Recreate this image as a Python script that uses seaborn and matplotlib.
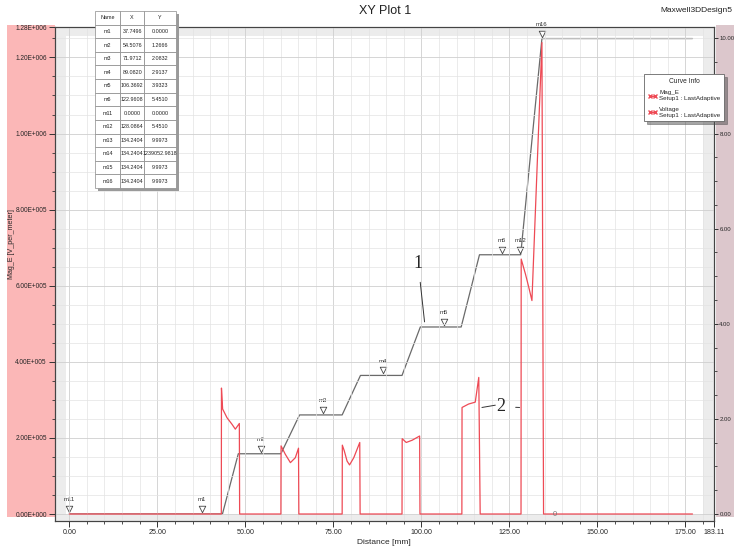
import numpy as np
import pandas as pd
import matplotlib
matplotlib.use('Agg')
import matplotlib.pyplot as plt
import seaborn as sns
from matplotlib.patches import Rectangle
from matplotlib.lines import Line2D
from matplotlib.ticker import FixedLocator, MultipleLocator, FuncFormatter
from matplotlib.transforms import offset_copy

# voltage along the line (right axis, V)
volt_x = [0, 43.5, 48.0, 60.1, 65.4, 77.5, 82.7, 94.5, 99.7, 111.3, 116.5, 128.2, 134.24, 177.0]
volt_y = [0, 0, 1.2666, 1.2666, 2.0832, 2.0832, 2.9137, 2.9137, 3.9323, 3.9323, 5.4510, 5.4510, 9.9973, 9.9973]

# field magnitude along the line (left axis, V/m)
mag_x = [0, 43.18, 43.22, 43.55, 44.8, 46.2, 47.16, 48.3, 48.38,
         60.1, 60.15, 61.35, 62.8, 64.2, 65.1, 65.2,
         77.5, 77.55, 78.1, 78.9, 79.6, 80.8, 82.5, 82.6,
         94.5, 94.55, 95.7, 97.4, 99.5, 99.6,
         111.5, 111.55, 113.4, 115.3, 116.3, 116.7,
         128.3, 128.35, 129.55, 130.5, 131.4, 134.24, 134.7, 177.0]
mag_y = [0, 0, 3.31e5, 2.76e5, 2.53e5, 2.36e5, 2.23e5, 2.38e5, 0,
         0, 1.79e5, 1.57e5, 1.35e5, 1.48e5, 1.73e5, 0,
         0, 1.81e5, 1.66e5, 1.39e5, 1.29e5, 1.48e5, 1.88e5, 0,
         0, 1.98e5, 1.88e5, 1.94e5, 2.05e5, 0,
         0, 2.80e5, 2.89e5, 2.94e5, 3.59e5, 0,
         0, 6.70e5, 6.31e5, 5.96e5, 5.61e5, 1.239e6, 0, 0]

# marker table
mk_names = ['m1', 'm2', 'm3', 'm4', 'm5', 'm6', 'm11', 'm12', 'm13', 'm14', 'm15', 'm16']
mk_x = ['37.7496', '54.5076', '71.9712', '89.0820', '106.3692', '122.9608', '0.0000',
        '128.0864', '134.2404', '134.2404', '134.2404', '134.2404']
mk_y = ['0.0000', '1.2666', '2.0832', '2.9137', '3.9323', '5.4510', '0.0000',
        '5.4510', '9.9973', '1239052.9818', '9.9973', '9.9973']
# markers drawn on the voltage curve
tri_names = ['m11', 'm1', 'm2', 'm3', 'm4', 'm5', 'm6', 'm12', 'm16']
tri_x = [0.0, 37.7496, 54.5076, 71.9712, 89.0820, 106.3692, 122.9608, 128.0864, 134.2404]
tri_y = [0.0, 0.0, 1.2666, 2.0832, 2.9137, 3.9323, 5.4510, 5.4510, 9.9973]

volt_df = pd.DataFrame({'Distance': volt_x, 'Voltage': volt_y})
mag_df = pd.DataFrame({'Distance': mag_x, 'Mag_E': mag_y})

sns.set_style('white')
plt.rcParams['font.family'] = ['Liberation Sans Narrow', 'Liberation Sans', 'DejaVu Sans']

red = '#ee4a55'
gray = '#6a6a6a'

fig = plt.figure(figsize=(7.34, 5.48), dpi=100)
ax = fig.add_axes([54.5/734, 1-520.7/548, (714-54.5)/734, (520.7-27)/548])
ax2 = ax.twinx()

# side panels
fig.patches.append(Rectangle((7/734, 1-517/548), 47.5/734, 492/548, transform=fig.transFigure,
                             facecolor='#fbb7b7', edgecolor='none', zorder=-5))
fig.patches.append(Rectangle((716/734, 1-517/548), 18/734, 492/548, transform=fig.transFigure,
                             facecolor='#dcc7cc', edgecolor='none', zorder=-5))

# background lives on ax2, curves of ax drawn above
ax.set_zorder(ax2.get_zorder() + 1)
ax.patch.set_visible(False)
ax2.patch.set_visible(True)
ax2.set_facecolor('#ececec')
ax2.add_patch(Rectangle((0.0174, 0.0115), 0.9659, 0.9703, transform=ax2.transAxes,
                        facecolor='white', edgecolor='none', zorder=0))

sns.lineplot(data=volt_df, x='Distance', y='Voltage', ax=ax2, color=gray, lw=0.9,
             estimator=None, sort=False)
sns.lineplot(data=mag_df, x='Distance', y='Mag_E', ax=ax, color=red, lw=0.9,
             estimator=None, sort=False)

ax.set_xlim(-4.2, 183.11)
ax.set_ylim(-1.76e4, 1.28e6)
ax2.set_ylim(-1.76e4/125000, 1.28e6/125000)

def sci(v, pos):
    if v == 0:
        return '0.00E+000'
    e = int(np.floor(np.log10(abs(v))))
    return f'{v/10**e:.2f}E+{e:03d}'

ax.yaxis.set_major_locator(FixedLocator([0, 2e5, 4e5, 6e5, 8e5, 1e6, 1.2e6, 1.28e6]))
ax.yaxis.set_minor_locator(MultipleLocator(5e4))
ax.yaxis.set_major_formatter(FuncFormatter(sci))
ax.xaxis.set_major_locator(FixedLocator([0, 25, 50, 75, 100, 125, 150, 175, 183.11]))
ax.xaxis.set_minor_locator(MultipleLocator(5))
ax.xaxis.set_major_formatter(FuncFormatter(lambda v, p: f'{v:.2f}'))
ax2.yaxis.set_major_locator(FixedLocator([0, 2, 4, 6, 8, 10]))
ax2.yaxis.set_minor_locator(MultipleLocator(0.5))
ax2.yaxis.set_major_formatter(FuncFormatter(lambda v, p: f'{v:.2f}'))

for a in (ax, ax2):
    a.tick_params(which='major', direction='out', length=4, width=0.7, labelsize=5.1,
                  color='#333333', pad=2)
    a.tick_params(which='minor', direction='out', length=2, width=0.6, color='#333333')
    for s in a.spines.values():
        s.set_color('#444444')
        s.set_linewidth(0.8)
ax.tick_params(left=True, bottom=True, which='both')
ax.tick_params(axis='y', labelsize=4.7, pad=1.5)
ax2.tick_params(right=True, which='both', pad=0.8, length=3.0, labelsize=4.3)
ax2.tick_params(which='minor', length=2)

ax.grid(which='major', color='#cfcfcf', lw=0.6)
ax.grid(which='minor', color='#e3e3e3', lw=0.5)

ax.set_xlabel('Distance [mm]', fontsize=6, labelpad=2)
ax.set_ylabel('Mag_E [V_per_meter]', fontsize=5.1)
ax.yaxis.set_label_coords(-0.06, 0.56)
ax2.set_ylabel('')

# markers
tri_tf = offset_copy(ax2.transData, fig=fig, y=3.6, units='points')
ax2.scatter(tri_x, tri_y, marker='v', s=22, facecolor='white', edgecolor='#444444',
            linewidth=0.6, transform=tri_tf, zorder=5)
for n, xv, yv in zip(tri_names, tri_x, tri_y):
    ax2.annotate(n, (xv, yv), xytext=(0, 8.5), textcoords='offset points', ha='center',
                 va='bottom', fontsize=4.3, color='#333333')
ax.text(138, 0, '0', fontsize=5.5, color='#777777', ha='center', va='center')

# curve labels 1 and 2
ax.annotate('1', xy=(100.9, 5.05e5), xytext=(99.1, 6.58e5), fontsize=13,
            family='Liberation Serif', ha='center', va='center',
            arrowprops=dict(arrowstyle='-', color='#333333', lw=0.7, shrinkA=5, shrinkB=0))
ax.annotate('2', xy=(127.9, 2.80e5), xytext=(122.6, 2.82e5), fontsize=13,
            family='Liberation Serif', ha='center', va='center',
            arrowprops=dict(arrowstyle='-', color='#333333', lw=0.7, shrinkA=5, shrinkB=0))
ax.annotate('', xy=(117.2, 2.80e5), xytext=(121.0, 2.86e5),
            arrowprops=dict(arrowstyle='-', color='#333333', lw=0.7, shrinkA=0, shrinkB=0))

# legend
handles = [Line2D([], [], color=red, lw=1, marker='x', ms=3, markevery=[0, 1]),
           Line2D([], [], color=red, lw=1, marker='x', ms=3, markevery=[0, 1])]
leg = ax.legend(handles, ['Mag_E\nSetup1 : LastAdaptive', 'Voltage\nSetup1 : LastAdaptive'],
                title='Curve Info', loc='upper left', bbox_to_anchor=(641/734, 1-71/548),
                bbox_transform=fig.transFigure, fontsize=4.5, title_fontsize=4.8,
                handlelength=1.4, handletextpad=0.4, borderpad=0.6, labelspacing=0.9,
                frameon=True, fancybox=False, shadow=True, numpoints=2)
leg.get_frame().set_edgecolor('#666666')
leg.get_frame().set_linewidth(0.6)

# marker table
tax = fig.add_axes([95/734, 1-188/548, 81/734, 177/548])
tax.axis('off')
fig.patches.append(Rectangle((98/734, 1-191/548), 81/734, 177/548, transform=fig.transFigure,
                             facecolor='#9a9a9a', edgecolor='none', zorder=3))
rows = [[n, xv, yv] for n, xv, yv in zip(mk_names, mk_x, mk_y)]
tbl = tax.table(cellText=rows, colLabels=['Name', 'X', 'Y'], bbox=[0, 0, 1, 1],
                cellLoc='center', colWidths=[25, 24.3, 31.7])
tbl.auto_set_font_size(False)
tbl.set_fontsize(3.9)
for (r, c), cell in tbl.get_celld().items():
    cell.set_edgecolor('#8a8a8a')
    cell.set_linewidth(0.5)
    cell.set_facecolor('white')
    cell.get_text().set_color('#222222')
tax.set_zorder(10)

fig.text(385/734, 1-11/548, 'XY Plot 1', fontsize=9, ha='center', va='center', color='#222222')
fig.text(732/734, 1-11/548, 'Maxwell3DDesign5', fontsize=6, ha='right', va='center', color='#222222')

fig.savefig('out.png', dpi=100)
